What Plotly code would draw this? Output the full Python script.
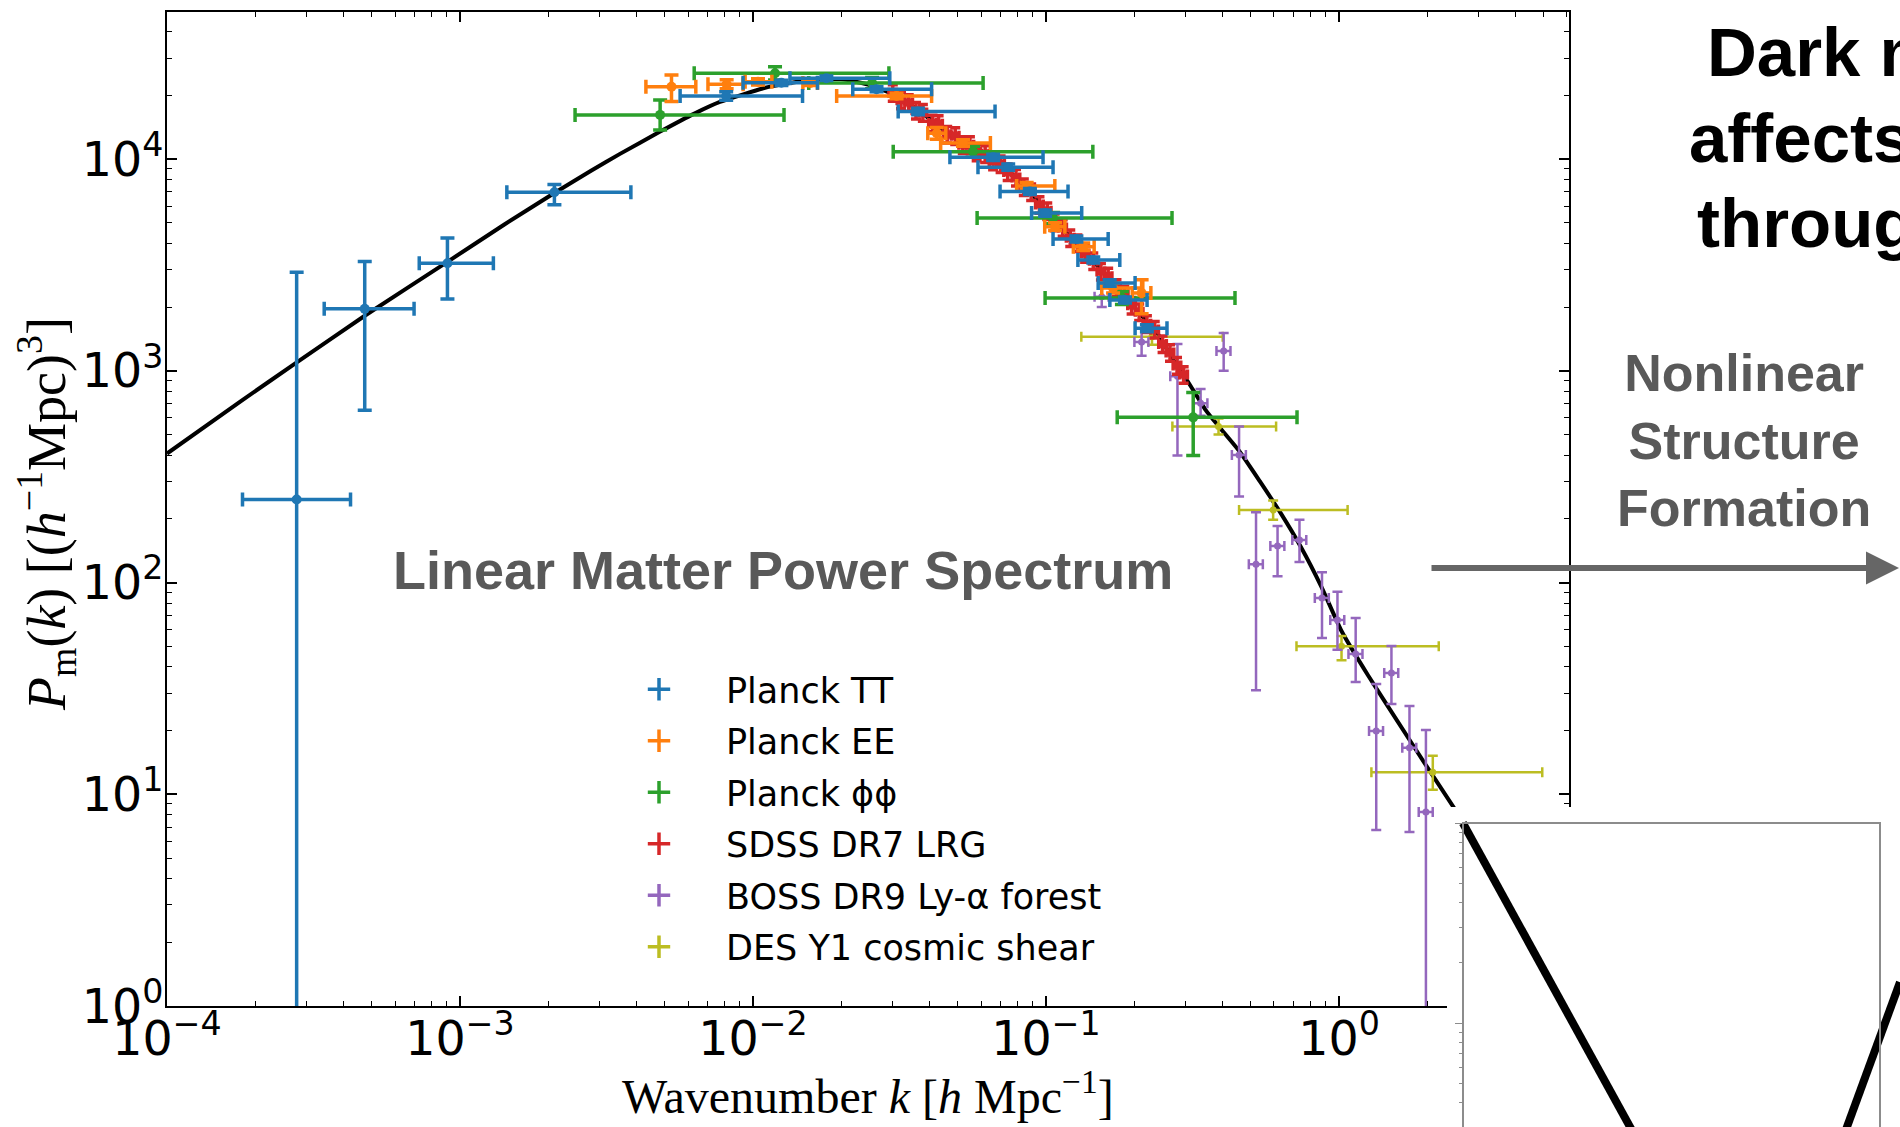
import plotly.graph_objects as go

W, H = 1900, 1127

# ---------------- data ----------------
curve_k = [1.0e-4, 1.778e-4, 2.773e-4, 4.786e-4, 9.06e-4, 1.413e-3, 2.099e-3, 2.80e-3, 3.516e-3, 4.82e-3,
           6.31e-3, 7.71e-3, 0.01122, 0.01585, 0.01995, 0.02512, 0.03076, 0.03631, 0.04467, 0.05623,
           0.06607, 0.07447, 0.0871, 0.0989, 0.1122, 0.1309, 0.1514, 0.1845, 0.2089, 0.2393, 0.2754,
           0.3048, 0.3508, 0.389, 0.4571, 0.5358, 0.631, 0.7396, 0.871, 1.021, 1.259, 1.585, 1.995,
           2.472, 2.818]
curve_P = [407, 716, 1096, 1841, 3273, 4898, 6918, 8810, 10590, 13490,
           16410, 18620, 21880, 23710, 23880, 22390, 19950, 17180, 13800, 11220,
           10000, 8810, 7160, 5820, 4790, 3850, 3090, 2290, 1862, 1514, 1096,
           891, 653, 546, 417, 302, 214, 148, 95.5, 58.9, 36.3, 22.1, 13.5,
           8.6, 6.46]

# Planck TT
tt_k = [2.77e-4, 4.73e-4, 9.06e-4, 2.1e-3, 8.1e-3, 0.0125, 0.0178, 0.0264, 0.0366, 0.066,
        0.0743, 0.0881, 0.0993, 0.127, 0.145, 0.165, 0.186, 0.221]
tt_P = [247, 1963, 3222, 6980, 19880, 22960, 24100, 21400, 16780, 10200,
        9160, 7030, 5560, 4190, 3340, 2600, 2160, 1590]
tt_k_lo = [1.81e-4, 3.44e-4, 7.26e-4, 1.445e-3, 5.64e-3, 9.25e-3, 0.01337, 0.0219, 0.0313, 0.0470,
           0.0586, 0.0697, 0.0893, 0.1057, 0.1285, 0.1507, 0.1652, 0.2014]
tt_k_hi = [4.23e-4, 6.97e-4, 1.30e-3, 3.83e-3, 0.01476, 0.0166, 0.0293, 0.0407, 0.0670, 0.0977,
           0.1057, 0.1189, 0.1324, 0.163, 0.1786, 0.2014, 0.2213, 0.2588]
tt_P_lo = [0.3, 652, 2183, 6095, 19000, 22300, 23500, 20800, 16200, 9850,
           8850, 6800, 5380, 4060, 3230, 2510, 2090, 1530]
tt_P_hi = [2925, 3288, 4236, 7600, 20800, 23600, 24700, 22000, 17400, 10550,
           9480, 7270, 5750, 4330, 3450, 2690, 2230, 1650]

# Planck EE
ee_k = [5.27e-3, 8.13e-3, 0.0104, 0.0157, 0.0309, 0.0424, 0.0521, 0.0859, 0.1074, 0.134, 0.1694, 0.212]
ee_P = [21990, 22600, 23200, 22900, 19870, 13250, 11920, 7470, 4800, 3860, 2460, 2330]
ee_k_lo = [4.31e-3, 7.02e-3, 9.4e-3, 0.0148, 0.0193, 0.0395, 0.0437, 0.0794, 0.0990, 0.124, 0.155, 0.197]
ee_k_hi = [6.38e-3, 9.25e-3, 0.0116, 0.0166, 0.0407, 0.0455, 0.0646, 0.1072, 0.1160, 0.146, 0.214, 0.228]
ee_P_lo = [18700, 21500, 22400, 22300, 19300, 12400, 11500, 7200, 4600, 3700, 2330, 1860]
ee_P_hi = [25000, 23700, 24000, 23500, 20450, 14100, 12350, 7750, 5000, 4020, 2600, 2690]

# Planck phi-phi
pp_k = [4.82e-3, 0.01189, 0.0255, 0.0564, 0.1057, 0.1816, 0.318]
pp_P = [16180, 25450, 22900, 10850, 5275, 2210, 603]
pp_k_lo = [2.47e-3, 6.3e-3, 0.0155, 0.0301, 0.0582, 0.0993, 0.175]
pp_k_hi = [0.01276, 0.0291, 0.0610, 0.1445, 0.2692, 0.4416, 0.719]
pp_P_lo = [13740, 23660, 21500, 10200, 4950, 2060, 398]
pp_P_hi = [19050, 27350, 24300, 11500, 5600, 2370, 791]

# SDSS DR7 LRG
sdss_k = [0.030, 0.032, 0.034, 0.036, 0.038, 0.041, 0.043, 0.046, 0.049, 0.052, 0.055, 0.058,
          0.062, 0.066, 0.070, 0.074, 0.079, 0.084, 0.089, 0.095, 0.101, 0.107, 0.114, 0.121,
          0.128, 0.136, 0.145, 0.154, 0.163, 0.174, 0.185, 0.196, 0.208, 0.221, 0.235, 0.250,
          0.265, 0.280, 0.295]
sdss_P = [20600, 19000, 18500, 17000, 16600, 14800, 14700, 13100, 12900, 11700, 11700, 10800,
          10600, 9800, 9500, 8700, 8200, 7400, 7000, 6100, 5700, 5050, 4750, 4250,
          4020, 3580, 3310, 2950, 2800, 2470, 2300, 2040, 1900, 1670, 1570, 1340,
          1220, 1060, 960]
sdss_rel_err_P = 0.09
sdss_rel_err_k = 0.03

# BOSS DR9 Ly-alpha forest
boss_k = [0.155, 0.212, 0.281, 0.337, 0.404, 0.456, 0.521, 0.617, 0.733, 0.875, 0.988, 1.14,
          1.34, 1.51, 1.74, 1.98]
boss_P = [2240, 1370, 943, 703, 1240, 400, 122, 149, 159, 84.6, 66.6, 46,
          19.9, 37.4, 16.6, 8.25]
boss_P_lo = [2000, 1180, 398, 614, 1000, 255, 31, 107, 125, 54.7, 48.1, 33.9,
             6.78, 26.7, 6.64, 0.3]
boss_P_hi = [2690, 1580, 1340, 822, 1510, 546, 215, 185, 198, 112, 90.4, 68,
             33.2, 50.1, 26.1, 20.1]
boss_rel_err_k = 0.055

# DES Y1 cosmic shear
des_k = [0.23, 0.388, 0.596, 1.02, 2.09]
des_P = [1449, 546, 220, 50, 12.7]
des_k_lo = [0.132, 0.270, 0.456, 0.716, 1.29]
des_k_hi = [0.401, 0.610, 1.07, 2.19, 4.94]
des_P_lo = [1330, 500, 198, 43, 10.5]
des_P_hi = [1580, 595, 244, 56, 15.2]

# inset (nonlinear panel, partially visible)
inset_left_x = [0.035, 0.25, 0.42]
inset_left_y = [100, 13.0, 2.6]
inset_right_x = [0.86, 0.883, 1.0]
inset_right_y = [2.18, 3.02, 16.0]

labels = ["Planck TT", "Planck EE", "Planck ϕϕ", "SDSS DR7 LRG", "BOSS DR9 Ly-α forest",
          "DES Y1 cosmic shear"]
colors = ["#1f77b4", "#ff7f0e", "#2ca02c", "#d62728", "#9467bd", "#bcbd22"]

# ---------------- figure ----------------
fig = go.Figure()

fig.add_trace(go.Scatter(x=curve_k, y=curve_P, mode="lines", showlegend=False,
                         line=dict(color="black", width=4, shape="spline", smoothing=0.5),
                         hoverinfo="skip"))


def err_trace(name, color, k, P, klo, khi, plo, phi, msize, cap, thick):
    return go.Scatter(
        x=k, y=P, mode="markers", name=name, showlegend=False,
        marker=dict(color=color, size=msize),
        error_x=dict(type="data", symmetric=False,
                     array=[h - v for h, v in zip(khi, k)],
                     arrayminus=[v - l for v, l in zip(k, klo)],
                     color=color, thickness=thick, width=cap),
        error_y=dict(type="data", symmetric=False,
                     array=[h - v for h, v in zip(phi, P)],
                     arrayminus=[v - l for v, l in zip(P, plo)],
                     color=color, thickness=thick, width=cap),
    )


sdss_k_lo = [k * (1 - sdss_rel_err_k) for k in sdss_k]
sdss_k_hi = [k * (1 + sdss_rel_err_k) for k in sdss_k]
sdss_P_lo = [p * (1 - sdss_rel_err_P) for p in sdss_P]
sdss_P_hi = [p * (1 + sdss_rel_err_P) for p in sdss_P]
boss_k_lo = [k * (1 - boss_rel_err_k) for k in boss_k]
boss_k_hi = [k * (1 + boss_rel_err_k) for k in boss_k]

fig.add_trace(err_trace(labels[5], colors[5], des_k, des_P, des_k_lo, des_k_hi, des_P_lo, des_P_hi, 7, 5, 2.5))
fig.add_trace(err_trace(labels[4], colors[4], boss_k, boss_P, boss_k_lo, boss_k_hi, boss_P_lo, boss_P_hi, 7, 5, 2.5))
fig.add_trace(err_trace(labels[3], colors[3], sdss_k, sdss_P, sdss_k_lo, sdss_k_hi, sdss_P_lo, sdss_P_hi, 9, 5, 3.5))
fig.add_trace(err_trace(labels[2], colors[2], pp_k, pp_P, pp_k_lo, pp_k_hi, pp_P_lo, pp_P_hi, 10, 7, 3.5))
fig.add_trace(err_trace(labels[1], colors[1], ee_k, ee_P, ee_k_lo, ee_k_hi, ee_P_lo, ee_P_hi, 10, 7, 3.5))
fig.add_trace(err_trace(labels[0], colors[0], tt_k, tt_P, tt_k_lo, tt_k_hi, tt_P_lo, tt_P_hi, 10, 7, 3.5))

# legend entries
for name, color in zip(labels, colors):
    fig.add_trace(go.Scatter(x=[None], y=[None], mode="markers", name=name, legendgroup=name,
                             marker=dict(symbol="cross-thin-open", size=16, color=color,
                                         line=dict(color=color, width=3.5))))

# inset panel
fig.add_trace(go.Scatter(x=[v + 0.004 for v in inset_left_x], y=inset_left_y, mode="lines",
                         xaxis="x2", yaxis="y2", showlegend=False,
                         line=dict(color="#ff5a1f", width=3), hoverinfo="skip"))
fig.add_trace(go.Scatter(x=inset_left_x, y=inset_left_y, mode="lines", xaxis="x2", yaxis="y2",
                         showlegend=False, line=dict(color="black", width=8), hoverinfo="skip"))
fig.add_trace(go.Scatter(x=inset_right_x, y=inset_right_y, mode="lines", xaxis="x2", yaxis="y2",
                         showlegend=False, line=dict(color="black", width=8), hoverinfo="skip"))

tickfont = dict(family="DejaVu Sans", size=38, color="black")
common = dict(type="log", showline=True, linecolor="black", linewidth=2, mirror="allticks",
              ticks="inside", ticklen=10, tickwidth=1.5, tickcolor="black", dtick=1,
              exponentformat="power", showexponent="all", tickfont=tickfont,
              labelalias={"1": "10<sup>0</sup>", "10": "10<sup>1</sup>"},
              minor=dict(ticks="inside", ticklen=5, tickwidth=1.2, tickcolor="black", showgrid=False),
              showgrid=False, zeroline=False, automargin=False)

fig.update_layout(
    width=W, height=H,
    margin=dict(l=0, r=0, t=0, b=0, autoexpand=False),
    paper_bgcolor="white", plot_bgcolor="white",
    xaxis=dict(domain=[167 / W, 1569 / W], range=[-4, 0.785], anchor="y", ticklabelstandoff=-8, **common),
    yaxis=dict(domain=[1 - 1006 / H, 1 - 12 / H], range=[0, 4.695], anchor="x", ticklabelstandoff=-6, **common),
    xaxis2=dict(domain=[1447 / W, 1.0], range=[0, 1], anchor="y2", visible=False, automargin=False),
    yaxis2=dict(domain=[0, 1 - 807 / H], type="log", range=[0.48, 2.08], anchor="free",
                position=1463 / W, showline=False, ticks="outside", ticklen=8, tickwidth=1,
                tickcolor="#8c8c8c", dtick=1, showticklabels=False, showgrid=False, zeroline=False,
                automargin=False,
                minor=dict(ticks="outside", ticklen=4, tickwidth=1, tickcolor="#8c8c8c", showgrid=False)),
    legend=dict(x=592 / W, xanchor="left", y=1 - 660 / H, yanchor="top",
                font=dict(family="DejaVu Sans", size=35, color="black"),
                itemwidth=124, tracegroupgap=3, traceorder="grouped",
                bgcolor="rgba(0,0,0,0)", borderwidth=0),
    showlegend=True,
)

fig.add_shape(type="rect", xref="paper", yref="paper", x0=1463 / W, x1=1880 / W, y0=-0.05,
              y1=1 - 823 / H, line=dict(color="#8c8c8c", width=2), fillcolor="rgba(0,0,0,0)",
              layer="above")

serif = "Liberation Serif, Times New Roman, serif"
sans = "Liberation Sans, Arial, Helvetica, sans-serif"
annos = [
    dict(text="Wavenumber <i>k</i> [<i>h</i> Mpc<sup>−1</sup>]", x=868 / W, y=1 - 1093 / H,
         font=dict(family=serif, size=48, color="black")),
    dict(text="<i>P</i><sub>m</sub>(<i>k</i>) [(<i>h</i><sup>−1</sup>Mpc)<sup>3</sup>]",
         x=46 / W, y=1 - 514 / H, textangle=-90, font=dict(family=serif, size=54, color="black")),
    dict(text="<b>Linear Matter Power Spectrum</b>", x=783 / W, y=1 - 570 / H,
         font=dict(family=sans, size=54, color="#595959")),
    dict(text="<b>Nonlinear<br>Structure<br>Formation</b>", x=1744 / W, y=1 - 441 / H,
         font=dict(family=sans, size=52, color="#595959")),
    dict(text="<b>Dark matter</b>", x=1705 / W, y=1 - 53 / H, xanchor="left",
         font=dict(family=sans, size=69, color="black")),
    dict(text="<b>affects</b>", x=1687 / W, y=1 - 138 / H, xanchor="left",
         font=dict(family=sans, size=69, color="black")),
    dict(text="<b>through</b>", x=1695 / W, y=1 - 223 / H, xanchor="left",
         font=dict(family=sans, size=69, color="black")),
]
for a in annos:
    a.setdefault("xanchor", "center")
    fig.add_annotation(xref="paper", yref="paper", showarrow=False, yanchor="middle", **a)

fig.add_annotation(xref="paper", yref="paper", x=1906 / W, y=1 - 568 / H, text="", showarrow=True,
                   ax=-476, ay=0, arrowhead=2, arrowsize=1.1, arrowwidth=6, arrowcolor="#666666")

fig.write_html("out.html")
